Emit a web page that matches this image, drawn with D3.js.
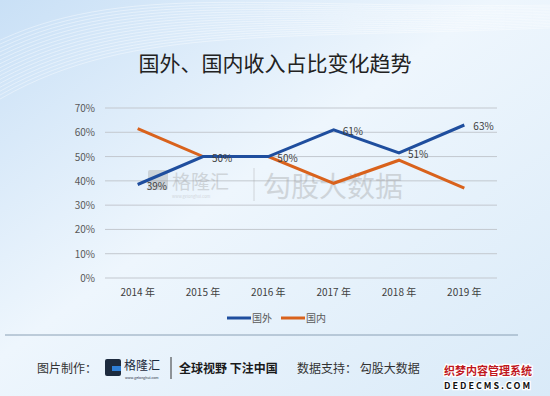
<!DOCTYPE html>
<meta charset="utf-8">
<head>
<style>
  body { margin: 0; }
  svg text { font-family: "Noto Sans CJK SC", "Microsoft YaHei", sans-serif; }
</style>
</head>
<body>
<script src="https://cdn.jsdelivr.net/npm/d3@7"></script>
<script>
var years = ["2014 年", "2015 年", "2016 年", "2017 年", "2018 年", "2019 年"];
var foreign = [38.5, 50, 50, 61, 51.5, 63];     // 国外
var domestic = [61.5, 50, 50, 39, 48.5, 37];    // 国内
var foreignLabels = ["39%", "50%", "50%", "61%", "51%", "63%"];
var yTicks = [0, 10, 20, 30, 40, 50, 60, 70];

var w = 550, h = 396;
var svg = d3.select("body").append("svg").attr("width", w).attr("height", h);

// background
var defs = svg.append("defs");
var bg = defs.append("linearGradient").attr("id", "bg").attr("x1", 0).attr("y1", 0).attr("x2", 1).attr("y2", 1);
bg.append("stop").attr("offset", "0%").attr("stop-color", "#c9e0f6");
bg.append("stop").attr("offset", "45%").attr("stop-color", "#eef6fd");
bg.append("stop").attr("offset", "100%").attr("stop-color", "#d9eaf8");
svg.append("rect").attr("width", w).attr("height", h).attr("fill", "url(#bg)");

// wave lines at the top
var waves = d3.range(16);
svg.selectAll("path.wave").data(waves).enter().append("path")
  .attr("d", function(d) {
    return "M-10," + (45 + d * 4) + " C120," + (-20 + d * 3) + " 260," + (10 + d * 2) + " 560," + (5 + d * 1.5);
  })
  .attr("fill", "none").attr("stroke", "#ffffff").attr("stroke-opacity", 0.5).attr("stroke-width", 0.8);

// title
svg.append("text").text("国外、国内收入占比变化趋势")
  .attr("x", 275).attr("y", 71).attr("text-anchor", "middle")
  .attr("font-size", 21).attr("fill", "#222");

var x = d3.scaleBand().domain(years).range([105, 497]);
var y = d3.scaleLinear().domain([0, 70]).range([278, 108]);

// grid
svg.selectAll("line.grid").data(yTicks).enter().append("line")
  .attr("x1", 105).attr("x2", 497)
  .attr("y1", function(d) { return y(d); }).attr("y2", function(d) { return y(d); })
  .attr("stroke", "#c3c8cf").attr("stroke-width", 1);

svg.selectAll("text.ytick").data(yTicks).enter().append("text")
  .text(function(d) { return d + "%"; })
  .attr("x", 95).attr("y", function(d) { return y(d) + 4; })
  .attr("text-anchor", "end").attr("font-size", 10).attr("fill", "#595959");

svg.selectAll("text.xtick").data(years).enter().append("text")
  .text(function(d) { return d; })
  .attr("x", function(d) { return x(d) + x.bandwidth() / 2; }).attr("y", 296)
  .attr("text-anchor", "middle").attr("font-size", 10).attr("fill", "#404040");

// watermark
var wm = svg.append("g").attr("opacity", 0.35);
wm.append("rect").attr("x", 148).attr("y", 170).attr("width", 20).attr("height", 20).attr("rx", 2).attr("fill", "#9a9a9a");
wm.append("text").text("格隆汇").attr("x", 172).attr("y", 189).attr("font-size", 19).attr("fill", "#9a9a9a");
wm.append("text").text("www.gelonghui.com").attr("x", 172).attr("y", 198).attr("font-size", 4).attr("fill", "#9a9a9a");
wm.append("line").attr("x1", 254).attr("x2", 254).attr("y1", 168).attr("y2", 201).attr("stroke", "#9a9a9a");
wm.append("text").text("勾股大数据").attr("x", 263).attr("y", 197).attr("font-size", 28).attr("fill", "#9a9a9a");

var line = d3.line()
  .x(function(d, i) { return x(years[i]) + x.bandwidth() / 2; })
  .y(function(d) { return y(d); });

svg.append("path").datum(domestic).attr("d", line)
  .attr("fill", "none").attr("stroke", "#d9621c").attr("stroke-width", 3);
svg.append("path").datum(foreign).attr("d", line)
  .attr("fill", "none").attr("stroke", "#1f4e9e").attr("stroke-width", 3);

svg.selectAll("text.lbl").data(foreign).enter().append("text")
  .text(function(d, i) { return foreignLabels[i]; })
  .attr("x", function(d, i) { return x(years[i]) + x.bandwidth() / 2 + 9; })
  .attr("y", function(d) { return y(d) + 5; })
  .attr("font-size", 10).attr("fill", "#404040");

// legend
var legend = [["国外", "#1f4e9e", 227], ["国内", "#d9621c", 281]];
var lg = svg.selectAll("g.legend").data(legend).enter().append("g");
lg.append("line").attr("x1", function(d) { return d[2]; }).attr("x2", function(d) { return d[2] + 24; })
  .attr("y1", 318).attr("y2", 318).attr("stroke", function(d) { return d[1]; }).attr("stroke-width", 3);
lg.append("text").text(function(d) { return d[0]; })
  .attr("x", function(d) { return d[2] + 25; }).attr("y", 322)
  .attr("font-size", 10).attr("fill", "#595959");

// footer
svg.append("line").attr("x1", 5).attr("x2", 518).attr("y1", 335).attr("y2", 335).attr("stroke", "#8aa0b5").attr("stroke-width", 1);
svg.append("text").text("图片制作：").attr("x", 37).attr("y", 373).attr("font-size", 12).attr("fill", "#333");
svg.append("rect").attr("x", 105).attr("y", 359).attr("width", 16).attr("height", 17).attr("rx", 2).attr("fill", "#1d2b3e");
svg.append("rect").attr("x", 112).attr("y", 366).attr("width", 9).attr("height", 5).attr("fill", "#2f7fd6");
svg.append("text").text("格隆汇").attr("x", 124).attr("y", 370).attr("font-size", 12).attr("fill", "#1d2b3e");
svg.append("text").text("www.gelonghui.com").attr("x", 125).attr("y", 379).attr("font-size", 3.5).attr("fill", "#1d2b3e");
svg.append("line").attr("x1", 171).attr("x2", 171).attr("y1", 357).attr("y2", 379).attr("stroke", "#333");
svg.append("text").text("全球视野 下注中国").attr("x", 179).attr("y", 373).attr("font-size", 12).attr("font-weight", "bold").attr("fill", "#1a1a1a");
svg.append("text").text("数据支持：  勾股大数据").attr("x", 297).attr("y", 373).attr("font-size", 12).attr("fill", "#333");

// site watermark
svg.append("text").text("织梦内容管理系统").attr("x", 444).attr("y", 375).attr("font-size", 11).attr("font-weight", "bold")
  .attr("fill", "#c0171d").attr("stroke", "#fff").attr("stroke-width", 2.5).attr("paint-order", "stroke");
svg.append("text").text("DEDECMS.COM").attr("x", 444).attr("y", 389).attr("font-size", 9).attr("font-weight", "bold")
  .attr("font-family", "DejaVu Sans Mono").attr("letter-spacing", 2)
  .attr("fill", "#111").attr("stroke", "#fff").attr("stroke-width", 2.5).attr("paint-order", "stroke");
</script>
</body>
